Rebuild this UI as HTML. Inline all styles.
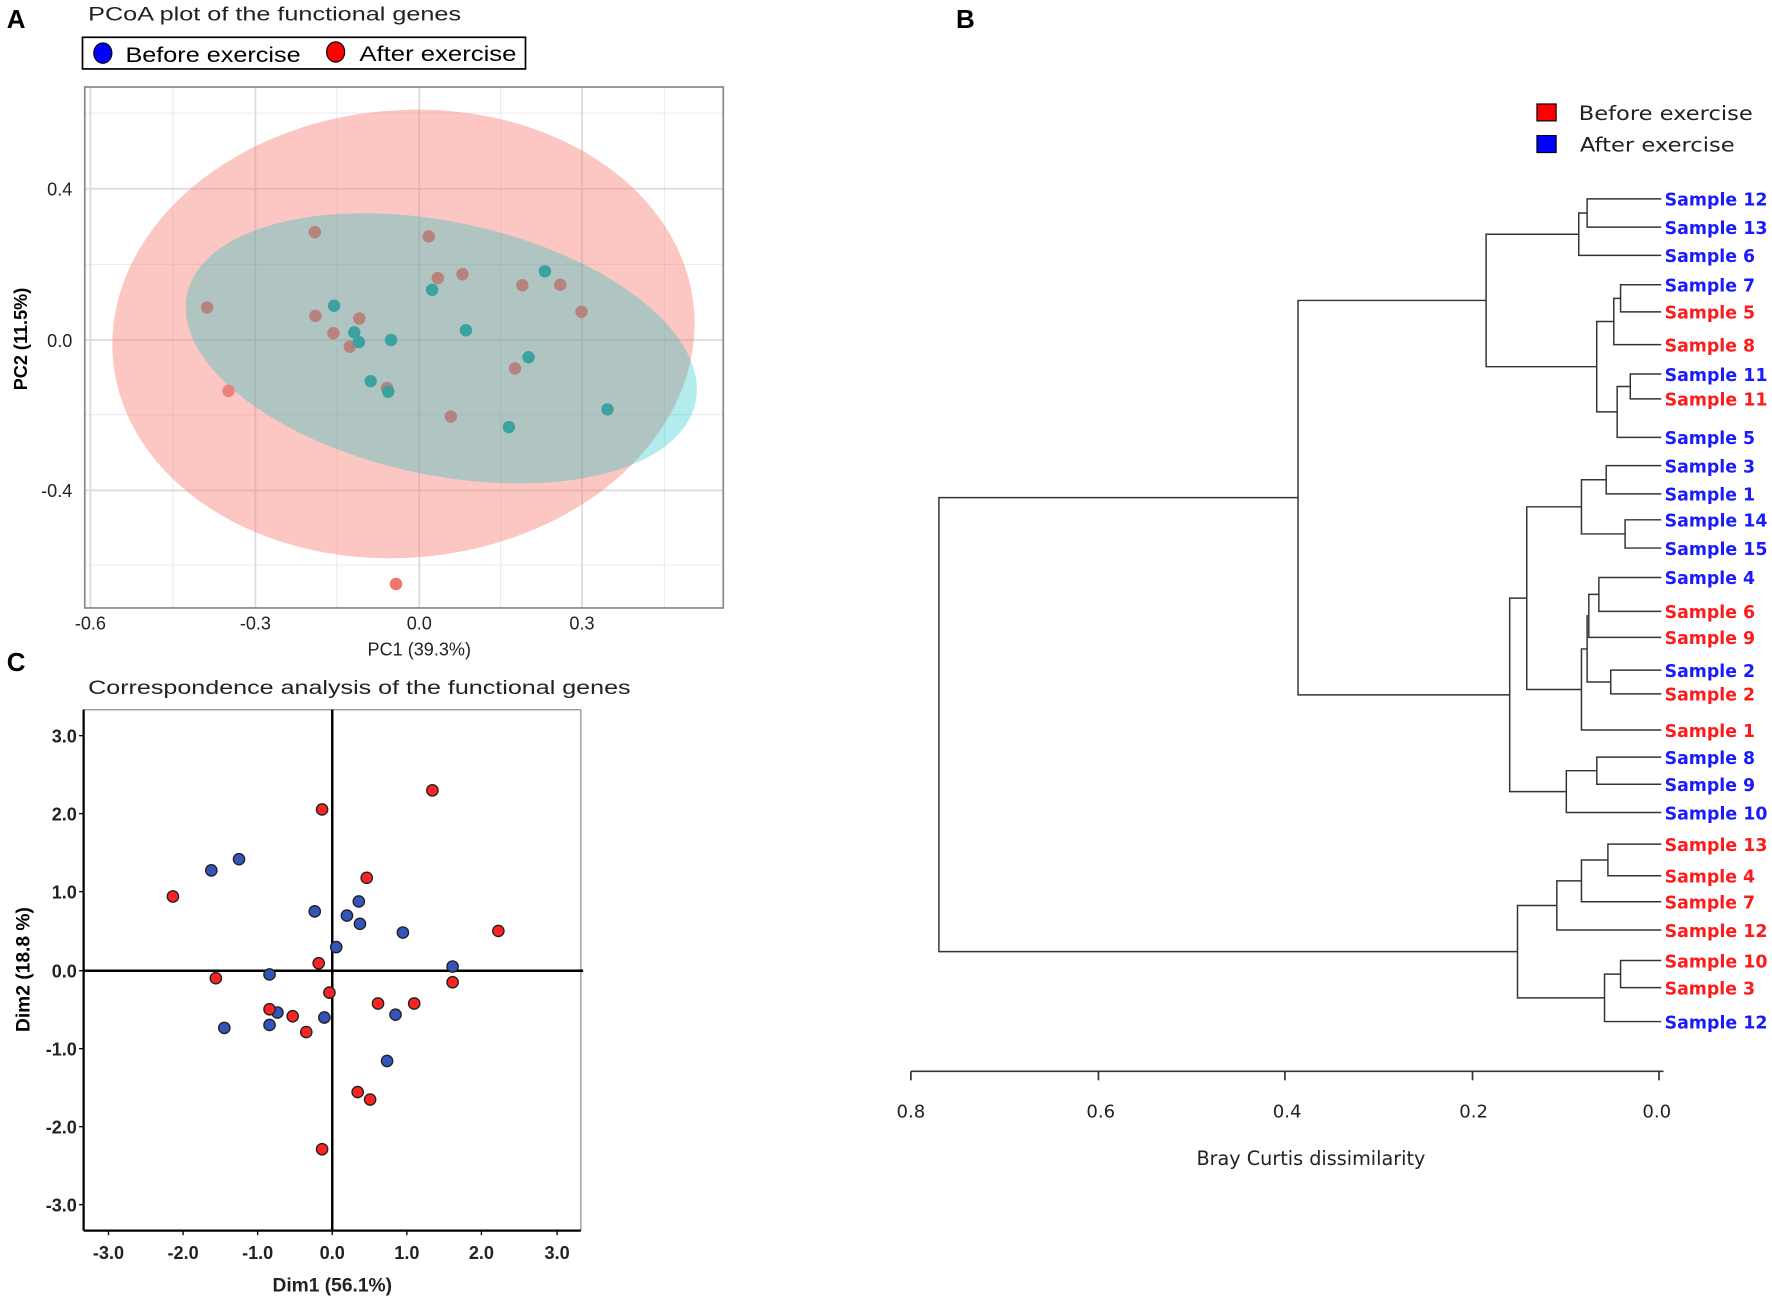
<!DOCTYPE html>
<html><head><meta charset="utf-8"><style>
html,body{margin:0;padding:0;background:#fff;}
svg{display:block;}
text{font-family:"Liberation Sans",Arial,sans-serif;}
.dv{font-family:"DejaVu Sans","Liberation Sans",sans-serif;font-weight:bold;}
.dn{font-family:"DejaVu Sans","Liberation Sans",sans-serif;font-weight:normal;}
</style></head><body>
<svg id="s" xmlns="http://www.w3.org/2000/svg" width="1772" height="1306" viewBox="0 0 1568 1155.7" preserveAspectRatio="none">
<rect width="1568" height="1156" fill="#fff"/>
<!-- Panel A -->
<text x="6" y="25" font-size="23" font-weight="bold">A</text>
<text x="78" y="18" font-size="17" textLength="330" lengthAdjust="spacingAndGlyphs" fill="#222">PCoA plot of the functional genes</text>
<rect x="73" y="33" width="392" height="28" fill="#fff" stroke="#000" stroke-width="1.5"/>
<ellipse cx="91" cy="47" rx="8" ry="9" fill="#0000ff" stroke="#000" stroke-width="1"/>
<text x="111" y="55" font-size="19" textLength="155" lengthAdjust="spacingAndGlyphs">Before exercise</text>
<ellipse cx="297" cy="46" rx="8" ry="9" fill="#ff0000" stroke="#000" stroke-width="1"/>
<text x="318" y="54" font-size="19" textLength="139" lengthAdjust="spacingAndGlyphs">After exercise</text>
<g stroke="#ececec" stroke-width="1">
<line x1="75" x2="640" y1="100" y2="100"/><line x1="75" x2="640" y1="234" y2="234"/><line x1="75" x2="640" y1="367" y2="367"/><line x1="75" x2="640" y1="500" y2="500"/>
<line x1="153" x2="153" y1="77" y2="538"/><line x1="298" x2="298" y1="77" y2="538"/><line x1="443" x2="443" y1="77" y2="538"/><line x1="588" x2="588" y1="77" y2="538"/>
</g>
<g stroke="#dcdcdc" stroke-width="1.6">
<line x1="75" x2="640" y1="167" y2="167"/><line x1="75" x2="640" y1="301" y2="301"/><line x1="75" x2="640" y1="434" y2="434"/>
<line x1="80" x2="80" y1="77" y2="538"/><line x1="226" x2="226" y1="77" y2="538"/><line x1="371" x2="371" y1="77" y2="538"/><line x1="515" x2="515" y1="77" y2="538"/>
</g>
<ellipse cx="357" cy="295.5" rx="258" ry="198" transform="rotate(-5 357 295.5)" fill="rgb(248,118,109)" fill-opacity="0.42"/>
<ellipse cx="390.5" cy="308.3" rx="230" ry="112" transform="rotate(12 390.5 308.3)" fill="rgb(0,191,196)" fill-opacity="0.3"/>
<g id="pa"></g>
<rect x="75" y="77" width="565" height="461" fill="none" stroke="#888" stroke-width="1.5"/>
<g font-size="16" fill="#222" text-anchor="end">
<text x="64" y="173">0.4</text><text x="64" y="307">0.0</text><text x="64" y="440">-0.4</text>
</g>
<g font-size="16" fill="#222" text-anchor="middle">
<text x="80" y="557">-0.6</text><text x="226" y="557">-0.3</text><text x="371" y="557">0.0</text><text x="515" y="557">0.3</text>
<text x="371" y="580">PC1 (39.3%)</text>
</g>
<text transform="translate(24 300) rotate(-90)" font-size="16" font-weight="bold" text-anchor="middle">PC2 (11.5%)</text>

<!-- Panel C -->
<text x="6" y="594" font-size="23" font-weight="bold">C</text>
<text x="78" y="614" font-size="17" textLength="480" lengthAdjust="spacingAndGlyphs" fill="#222">Correspondence analysis of the functional genes</text>
<line x1="74" y1="628" x2="514" y2="628" stroke="#999" stroke-width="1.2"/>
<line x1="514" y1="628" x2="514" y2="1089" stroke="#999" stroke-width="1.2"/>
<line x1="74" y1="628" x2="74" y2="1089" stroke="#000" stroke-width="2"/>
<line x1="74" y1="1089" x2="514" y2="1089" stroke="#000" stroke-width="2"/>
<line x1="294" y1="628" x2="294" y2="1089" stroke="#000" stroke-width="2.2"/>
<line x1="74" y1="859" x2="516" y2="859" stroke="#000" stroke-width="2.2"/>
<g id="pc"></g>
<g stroke="#000" stroke-width="1.2">
<line x1="70" x2="74" y1="651" y2="651"/><line x1="70" x2="74" y1="720" y2="720"/><line x1="70" x2="74" y1="789" y2="789"/><line x1="70" x2="74" y1="859" y2="859"/><line x1="70" x2="74" y1="928" y2="928"/><line x1="70" x2="74" y1="997" y2="997"/><line x1="70" x2="74" y1="1066" y2="1066"/>
<line y1="1089" y2="1093" x1="96" x2="96"/><line y1="1089" y2="1093" x1="162" x2="162"/><line y1="1089" y2="1093" x1="228" x2="228"/><line y1="1089" y2="1093" x1="294" x2="294"/><line y1="1089" y2="1093" x1="360" x2="360"/><line y1="1089" y2="1093" x1="426" x2="426"/><line y1="1089" y2="1093" x1="493" x2="493"/>
</g>
<g font-size="16" fill="#222" text-anchor="end" font-weight="bold">
<text x="68" y="657">3.0</text><text x="68" y="726">2.0</text><text x="68" y="795">1.0</text><text x="68" y="865">0.0</text><text x="68" y="934">-1.0</text><text x="68" y="1003">-2.0</text><text x="68" y="1072">-3.0</text>
</g>
<g font-size="16" fill="#222" text-anchor="middle" font-weight="bold">
<text x="96" y="1114">-3.0</text><text x="162" y="1114">-2.0</text><text x="228" y="1114">-1.0</text><text x="294" y="1114">0.0</text><text x="360" y="1114">1.0</text><text x="426" y="1114">2.0</text><text x="493" y="1114">3.0</text>
<text x="294" y="1143" font-size="17">Dim1 (56.1%)</text>
</g>
<text transform="translate(26 858) rotate(-90)" font-size="17" font-weight="bold" text-anchor="middle">Dim2 (18.8 %)</text>

<!-- Panel B -->
<text x="846" y="25" font-size="23" font-weight="bold">B</text>
<rect x="1360" y="92" width="17" height="15" fill="#ff0000" stroke="#000" stroke-width="1"/>
<text x="1397" y="106" class="dn" font-size="17" fill="#222" textLength="154" lengthAdjust="spacingAndGlyphs">Before exercise</text>
<rect x="1360" y="120" width="17" height="15" fill="#0000ff" stroke="#000" stroke-width="1"/>
<text x="1398" y="134" class="dn" font-size="17" fill="#222" textLength="137" lengthAdjust="spacingAndGlyphs">After exercise</text>
<g id="dg" stroke="#333" stroke-width="1.3" fill="none"></g>
<g id="dl"></g>
<line x1="806" y1="948" x2="1472" y2="948" stroke="#333" stroke-width="1.5"/>
<g stroke="#333" stroke-width="1.5">
<line x1="806" x2="806" y1="948" y2="956"/><line x1="972" x2="972" y1="948" y2="956"/><line x1="1137" x2="1137" y1="948" y2="956"/><line x1="1303" x2="1303" y1="948" y2="956"/><line x1="1468" x2="1468" y1="948" y2="956"/>
</g>
<g class="dn" font-size="16" fill="#222" text-anchor="middle">
<text x="806" y="989" class="dn">0.8</text><text x="974" y="989" class="dn">0.6</text><text x="1139" y="989" class="dn">0.4</text><text x="1304" y="989" class="dn">0.2</text><text x="1466" y="989" class="dn">0.0</text>
<text x="1160" y="1031" font-size="17" class="dn">Bray Curtis  dissimilarity</text>
</g>
</svg>
<script>
var NS="http://www.w3.org/2000/svg";
function el(p,t,a,txt){var e=document.createElementNS(NS,t);for(var k in a)e.setAttribute(k,a[k]);if(txt)e.textContent=txt;document.getElementById(p).appendChild(e);return e;}
var brown=[[278.6,205.5],[379.4,209.2],[387.4,246.1],[409.3,242.7],[462.2,252.4],[495.7,252],[514.6,275.9],[183.3,272.1],[279.1,279.6],[318,281.8],[295,294.9],[309.5,306.8],[455.7,326.1],[342.5,343.3],[398.9,368.6]];
var teal=[[295.6,270.6],[382.4,256.5],[482.2,240.1],[313.5,294.1],[317.5,302.7],[346,300.8],[412.3,292.2],[467.7,316.1],[328,337.3],[343.5,346.6],[450.3,377.9],[537.6,362.3]];
brown.forEach(function(p){el("pa","circle",{cx:p[0],cy:p[1],r:5.5,fill:"#b7837d"});});
el("pa","circle",{cx:202.2,cy:345.9,r:5.5,fill:"#e9837b"});
el("pa","circle",{cx:350.4,cy:516.8,r:5.5,fill:"#f0766d"});
teal.forEach(function(p){el("pa","circle",{cx:p[0],cy:p[1],r:5.5,fill:"#3aa39f"});});
var red=[[382.6,699.4],[285,716.3],[153,793.3],[324.5,776.8],[441,823.8],[282,852.4],[191,865.6],[291.5,878.4],[238.5,893.1],[259,899.3],[271,913.3],[334.5,888],[366.5,888],[400.5,869.2],[316.5,966.4],[327.5,973],[285,1017]];
var blue=[[187,770.2],[211.5,760.3],[278.5,806.5],[317.5,797.7],[307,810.2],[318.5,817.5],[356.5,825.2],[297.5,838.1],[400.5,855.3],[238.5,862.3],[245.5,896],[198.5,909.6],[238.5,907],[287,900.4],[350,897.9],[342.5,938.9]];
blue.forEach(function(p){el("pc","circle",{cx:p[0],cy:p[1],r:5,fill:"#3355bb",stroke:"#222","stroke-width":1.2});});
red.forEach(function(p){el("pc","circle",{cx:p[0],cy:p[1],r:5,fill:"#ff2222",stroke:"#222","stroke-width":1.2});});
var B="#1a1aff",R="#ff1a1a";
var L=[["Sample 12",B,176],["Sample 13",B,201],["Sample 6",B,226],["Sample 7",B,252],["Sample 5",R,276],["Sample 8",R,305],["Sample 11",B,331],["Sample 11",R,353],["Sample 5",B,387],["Sample 3",B,412],["Sample 1",B,437],["Sample 14",B,460],["Sample 15",B,485],["Sample 4",B,511],["Sample 6",R,541],["Sample 9",R,564],["Sample 2",B,593],["Sample 2",R,614],["Sample 1",R,646],["Sample 8",B,670],["Sample 9",B,694],["Sample 10",B,719],["Sample 13",R,747],["Sample 4",R,775],["Sample 7",R,798],["Sample 12",R,823],["Sample 10",R,850],["Sample 3",R,874],["Sample 12",B,904]];
L.forEach(function(l){var w=l[0].length>8?91:80;el("dl","text",{x:1473,y:l[2]+6,"font-size":16,fill:l[1],"class":"dv",textLength:w,lengthAdjust:"spacingAndGlyphs"},l[0]);});
function N(x,a,b){return {x:x,a:a,b:b};}
var T=N(830.8,
  N(1148.6,
    N(1315,
      N(1397,N(1404.4,0,1),2),
      N(1412.9,N(1428,N(1434,3,4),5),N(1431,N(1442.6,6,7),8))),
    N(1335.9,
      N(1351,
        N(1399.4,N(1421.3,9,10),N(1438,11,12)),
        N(1399.4,N(1404.4,N(1405.9,N(1414.8,13,14),15),N(1425.3,16,17)),18)),
      N(1386,N(1413,19,20),21))),
  N(1342.8,
    N(1377.6,N(1399.4,N(1422.8,22,23),24),25),
    N(1419.8,N(1434,26,27),28)));
var LX=1470;
function draw(n){
  if(typeof n==="number"){return {x:LX,y:L[n][2]};}
  var a=draw(n.a),b=draw(n.b);
  el("dg","path",{d:"M"+a.x+" "+a.y+"H"+n.x+"V"+b.y+"H"+b.x});
  return {x:n.x,y:(a.y+b.y)/2};
}
draw(T);
</script>
</body></html>
